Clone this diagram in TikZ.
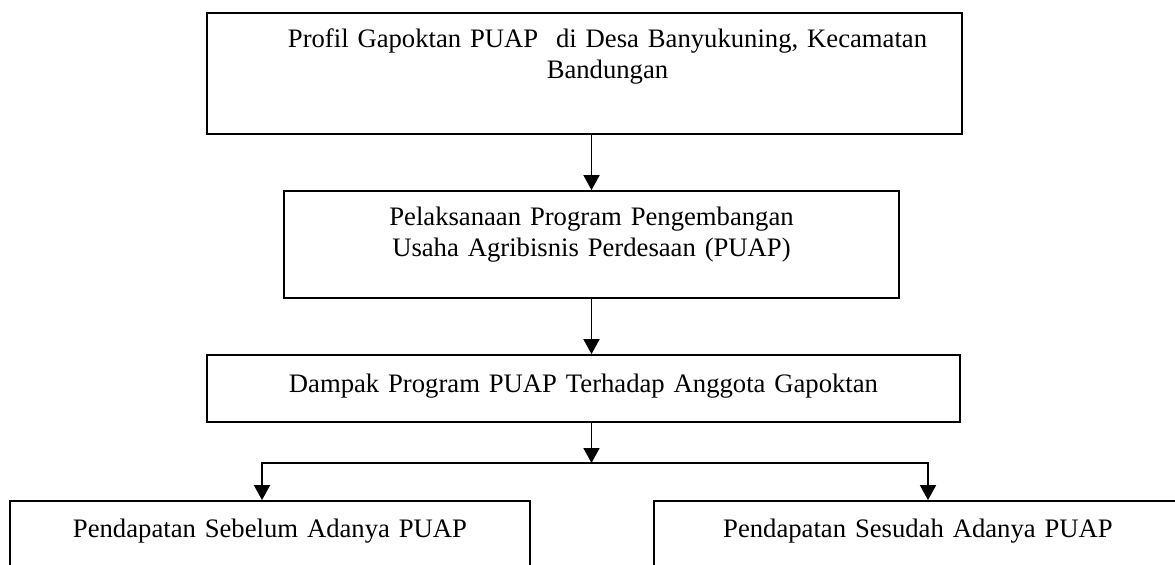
\documentclass[tikz,border=0pt]{standalone}
\usepackage{fontspec}
\setmainfont{Liberation Serif}
\usetikzlibrary{arrows.meta}
\begin{document}
\begin{tikzpicture}[x=0.45pt,y=-0.45pt,
box/.style={draw, line width=0.8pt, inner sep=0pt, align=center, anchor=base, font=\fontsize{12}{14}\selectfont},
arr/.style={line width=0.8pt, -{Triangle[width=7.2pt,length=6.75pt]}}]
\useasboundingbox (0,0) rectangle (1175,564);
\clip (0,0) rectangle (1175,564);
\node (profil) at (584.5,47) [box, text width=339.75pt, text height=15.3pt, text depth=39.15pt] {\hspace*{20.7pt}Profil Gapoktan PUAP~ di Desa Banyukuning, Kecamatan\\ \hspace*{20.7pt}Bandungan};
\node (pelaksanaan) at (591.5,225) [box, text width=276.75pt, text height=15.3pt, text depth=32.85pt] {Pelaksanaan Program Pengembangan\\ Usaha Agribisnis Perdesaan (PUAP)};
\node (dampak) at (583.5,392) [box, text width=338.85pt, text height=16.65pt, text depth=13.5pt] {Dampak Program PUAP Terhadap Anggota Gapoktan};
\node (sebelum) at (270,537) [box, text width=234pt, text height=16.2pt, text depth=37.35pt] {Pendapatan Sebelum Adanya PUAP};
\node (sesudah) at (918,537) [box, text width=237.6pt, text height=16.2pt, text depth=37.35pt] {Pendapatan Sesudah Adanya PUAP};
\coordinate (cabang) at (591.5,463);
\coordinate (kiri) at (262,463);
\coordinate (kanan) at (928,463);

\draw[arr] (profil.south -| pelaksanaan.north) to (pelaksanaan.north);
\draw[arr] (pelaksanaan.south) to (pelaksanaan.south |- dampak.north);
\draw[arr] (cabang |- dampak.south) to (cabang);
\draw[arr] (cabang) -- (kiri) -- (kiri |- sebelum.north);
\draw[arr] (cabang) -- (kanan) -- (kanan |- sesudah.north);
\end{tikzpicture}
\end{document}
